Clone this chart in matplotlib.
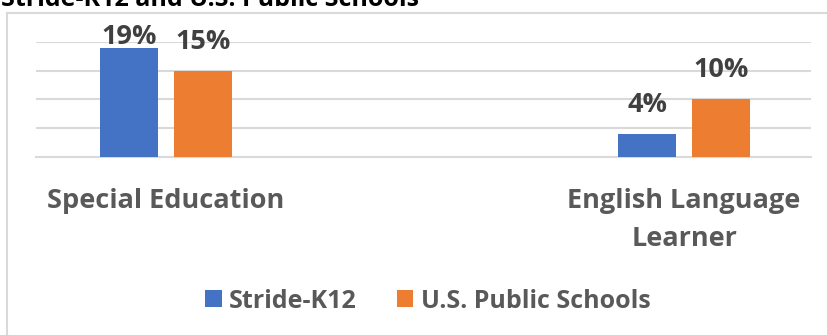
import matplotlib
matplotlib.use('Agg')
import matplotlib.pyplot as plt
from matplotlib.lines import Line2D
from matplotlib.patches import Patch
import numpy as np

# data
categories = ['Special Education', 'English Language\nLearner']
series_names = ['Stride-K12', 'U.S. Public Schools']
stride = [0.19, 0.04]
public = [0.15, 0.10]
colors = ['#4472C4', '#ED7D31']

plt.rcParams['font.family'] = ['Open Sans', 'DejaVu Sans']
plt.rcParams['font.weight'] = 'bold'

W, H = 828, 335
fig = plt.figure(figsize=(W / 100, H / 100), dpi=100)
ax = fig.add_axes([36 / W, (H - 157) / H, (811 - 36) / W, (157 - 42) / H])

x = np.arange(len(categories))
bw = 0.112
off = 0.0707
for vals, c, dx in zip([stride, public], colors, [-off, off]):
    bars = ax.bar(x + dx, vals, width=bw, color=c, zorder=3)
    for b, v in zip(bars, vals):
        # excel pushes the label down when it hits the top of the plot
        ly = min(v + 0.028, 0.186)
        ax.text(b.get_x() + b.get_width() / 2, ly, '%d%%' % round(v * 100),
                ha='center', va='bottom', fontsize=19.5, color='#404040',
                fontweight='bold', clip_on=False, zorder=4)

ax.set_xlim(-0.251, 1.245)
ax.set_ylim(0, 0.20)
ax.set_yticks([0.05, 0.10, 0.15, 0.20])
ax.yaxis.grid(True, color='#d9d9d9', linewidth=1.5, zorder=0)
ax.set_yticklabels([])
ax.tick_params(axis='y', length=0)
ax.set_xticks(x)
ax.set_xticklabels(categories, fontsize=19.5, color='#595959', fontweight='bold',
                   linespacing=1.62)
ax.tick_params(axis='x', length=0, pad=22)
for s in ['top', 'right', 'left']:
    ax.spines[s].set_visible(False)
ax.spines['bottom'].set_color('#d9d9d9')
ax.spines['bottom'].set_linewidth(1.5)
ax.spines['bottom'].set_zorder(2)

# chart frame (only the top and left edges are in view)
bx, by = 7 / W, 1 - 13 / H
fig.add_artist(Line2D([bx, bx], [0, by], color='#d9d9d9', linewidth=1.5))
fig.add_artist(Line2D([bx, 1], [by, by], color='#d9d9d9', linewidth=1.5))

# title, cut off at the top of the image
fig.text(1 / W, 1 - 6 / H, 'Stride-K12 and U.S. Public Schools', ha='left',
         va='baseline', fontsize=18, fontweight='bold', color='black')

handles = [Patch(facecolor=c, edgecolor='none') for c in colors]
leg = fig.legend(handles, series_names, loc='center', bbox_to_anchor=(428 / W, 1 - 301 / H),
                 ncol=2, frameon=False, fontsize=18, handlelength=0.65, handleheight=0.65,
                 handletextpad=0.3, columnspacing=1.6)
for t in leg.get_texts():
    t.set_color('#595959')
    t.set_fontweight('bold')

fig.savefig('out.png', dpi=100)
